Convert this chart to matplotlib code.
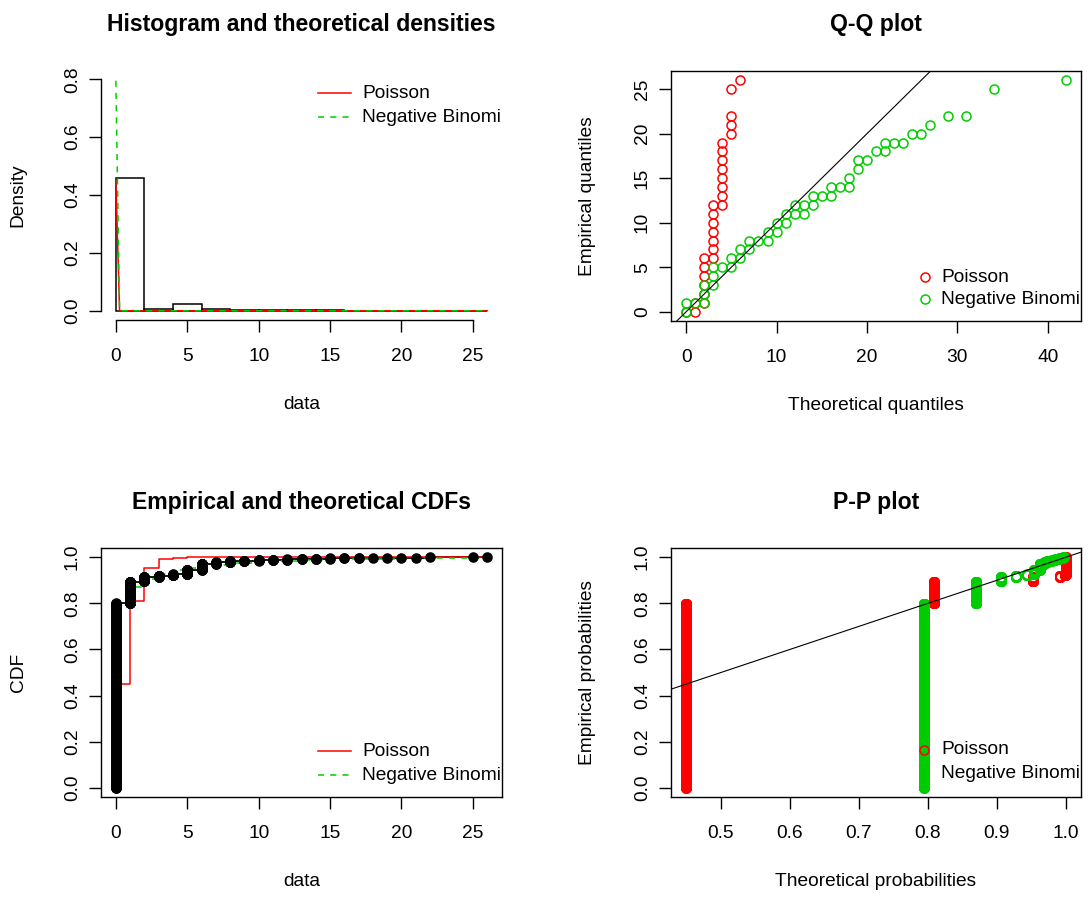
import numpy as np
import matplotlib.pyplot as plt

plt.rcParams['font.family'] = ['Liberation Sans', 'DejaVu Sans']

# observed data, summarised as value -> frequency (n = 2000)
values = [0, 1, 2, 3, 4, 5, 6, 7, 8, 9, 10, 11, 12, 13, 14, 15, 16, 17, 18, 19, 20, 21, 22, 25, 26]
counts = [1599, 190, 40, 12, 10, 40, 52, 12, 10, 5, 4, 4, 3, 3, 3, 2, 2, 2, 1, 1, 1, 1, 1, 1, 1]

# fitted CDFs evaluated on 0..26
grid = list(range(27))
pois_cdf = [0.449, 0.809, 0.953, 0.991, 0.9986, 0.9998, 1.0, 1.0, 1.0, 1.0, 1.0, 1.0, 1.0, 1.0,
            1.0, 1.0, 1.0, 1.0, 1.0, 1.0, 1.0, 1.0, 1.0, 1.0, 1.0, 1.0, 1.0]
nbin_cdf = [0.795, 0.870, 0.906, 0.928, 0.943, 0.954, 0.962, 0.968, 0.973, 0.977, 0.980, 0.983,
            0.985, 0.987, 0.9885, 0.990, 0.991, 0.992, 0.993, 0.9937, 0.9943, 0.9948, 0.9953,
            0.9957, 0.9961, 0.9965, 0.9968]

# fitted densities on the plotting grid of the histogram panel
dens_x = [0.0, 0.26, 26.0]
pois_dens = [0.449, 0.0, 0.0]
nbin_dens = [0.795, 0.0, 0.0]

# Q-Q points (theoretical quantile, empirical quantile)
qq_pois_x = [0, 1, 1, 2, 2, 2, 2, 2, 2, 3, 3, 3, 3, 3, 3, 3, 4, 4, 4, 4, 4, 4, 4, 4, 5, 5, 5, 5, 6]
qq_pois_y = [0, 0, 1, 1, 2, 3, 4, 5, 6, 6, 7, 8, 9, 10, 11, 12, 12, 13, 14, 15, 16, 17, 18, 19,
             20, 21, 22, 25, 26]
qq_nbin_x = [0, 0, 1, 2, 2, 2, 3, 3, 3, 4, 5, 5, 6, 6, 7, 7, 8, 9, 9, 10, 10, 11, 11, 12, 12,
             13, 13, 14, 14, 15, 16, 16, 17, 18, 18, 19, 19, 20, 21, 22, 22, 23, 24, 25, 26,
             27, 29, 31, 34, 42]
qq_nbin_y = [0, 1, 1, 1, 2, 3, 3, 4, 5, 5, 5, 6, 6, 7, 7, 8, 8, 8, 9, 9, 10, 10, 11, 11, 12,
             11, 12, 12, 13, 13, 13, 14, 14, 14, 15, 16, 17, 17, 18, 18, 19, 19, 19, 20, 20,
             21, 22, 22, 25, 26]

hist_breaks = [0, 2, 4, 6, 8, 10, 12, 14, 16, 18, 20, 22, 24, 26]

labels = ['Poisson', 'Negative Binomi']
RED = '#FF0000'
GREEN = '#00CD00'
FS = 13.8
W, H = 1088, 900

fig = plt.figure(figsize=(W / 100, H / 100), dpi=100)


def add_ax(l, t, r, b):
    ax = fig.add_axes([l / W, 1 - b / H, (r - l) / W, (b - t) / H])
    ax.pw, ax.ph = r - l, b - t
    return ax


def style(ax, title, xlabel, ylabel):
    ax.tick_params(direction='out', length=8.5, width=1, labelsize=FS, colors='black')
    ax.tick_params(axis='x', pad=12)
    ax.tick_params(axis='y', pad=6, labelrotation=90)
    for lab in ax.get_yticklabels():
        lab.set_va('center')
    for sp in ax.spines.values():
        sp.set_linewidth(1.0)
    ax.text(0.5, 1 + 46 / ax.ph, title, transform=ax.transAxes, ha='center', va='center',
            fontsize=16.6, fontweight='bold')
    ax.set_xlabel(xlabel, fontsize=FS)
    ax.xaxis.set_label_coords(0.5, -84 / ax.ph)
    ax.xaxis.label.set_va('center')
    ax.set_ylabel(ylabel, fontsize=FS)
    ax.yaxis.set_label_coords(-83 / ax.pw, 0.5)
    ax.yaxis.label.set_va('center')


def legend_text(ax, dy, text):
    ax.text(1 - 140 / ax.pw, dy, text, transform=ax.transAxes, fontsize=FS, ha='left',
            va='center', clip_on=True)


def legend_lines(ax, rows):
    for yy, col, ls, txt in zip(rows, [RED, GREEN], ['-', '--'], labels):
        y = yy / ax.ph
        ax.plot([1 - 184 / ax.pw, 1 - 151 / ax.pw], [y, y], transform=ax.transAxes, color=col,
                ls=ls, lw=1.1, dashes=(4, 4) if ls == '--' else (None, None), clip_on=False)
        legend_text(ax, y, txt)


obs = np.repeat(values, counts)
n = obs.size
ranks = np.arange(1, n + 1)

# ---- Histogram and theoretical densities (right-closed bins as in R's hist)
ax1 = add_ax(101, 70, 502, 320)
edges = np.asarray(hist_breaks, dtype=float)
shifted = edges + 0.5
shifted[0] = edges[0] - 0.5
freq, _ = np.histogram(obs, bins=shifted)
dens = freq / (n * np.diff(edges))
ax1.bar(edges[:-1], dens, width=np.diff(edges), align='edge', fill=False, edgecolor='black',
        linewidth=1.1)
ax1.plot(dens_x, pois_dens, color=RED, lw=1.1)
ax1.plot(dens_x, nbin_dens, color=GREEN, lw=1.1, ls='--', dashes=(4, 4))
ax1.set_xlim(-1.04, 27.04)
ax1.set_ylim(-0.032, 0.832)
ax1.set_xticks([0, 5, 10, 15, 20, 25])
ax1.set_yticks([0.0, 0.2, 0.4, 0.6, 0.8])
ax1.set_yticklabels(['0.0', '0.2', '0.4', '0.6', '0.8'])
ax1.spines['top'].set_visible(False)
ax1.spines['right'].set_visible(False)
ax1.spines['left'].set_bounds(0, 0.8)
ax1.spines['bottom'].set_bounds(0, 25)
style(ax1, 'Histogram and theoretical densities', 'data', 'Density')
legend_lines(ax1, [ax1.ph - 23, ax1.ph - 47])

# ---- Q-Q plot
ax2 = add_ax(671, 71, 1081, 321)
ax2.plot(qq_pois_x, qq_pois_y, 'o', mfc='none', mec=RED, ms=6.5, mew=1.1, ls='none')
ax2.plot(qq_nbin_x, qq_nbin_y, 'o', mfc='none', mec=GREEN, ms=6.5, mew=1.1, ls='none')
ax2.axline((0, 0), (1, 1), color='black', lw=0.8)
ax2.set_xlim(-1.68, 43.68)
ax2.set_ylim(-1.04, 27.04)
ax2.set_xticks([0, 10, 20, 30, 40])
ax2.set_yticks([0, 5, 10, 15, 20, 25])
style(ax2, 'Q-Q plot', 'Theoretical quantiles', 'Empirical quantiles')
for yy, col in zip([44, 22], [RED, GREEN]):
    ax2.plot([1 - 156 / ax2.pw], [yy / ax2.ph], 'o', mfc='none', mec=col, ms=6.5, mew=1.1,
             transform=ax2.transAxes, clip_on=False)
legend_text(ax2, 44 / ax2.ph, labels[0])
legend_text(ax2, 22 / ax2.ph, labels[1])

# ---- Empirical and theoretical CDFs
ax3 = add_ax(101, 548, 502, 797)
ax3.plot(values, np.cumsum(counts) / n, color='black', lw=1.3, drawstyle='steps-post')
ax3.plot(grid, pois_cdf, color=RED, lw=1.1, drawstyle='steps-post')
ax3.plot(grid, nbin_cdf, color=GREEN, lw=1.1, ls='--', dashes=(4, 4), drawstyle='steps-post')
ax3.plot(obs, ranks / n, 'o', color='black', ms=7.6, mew=0, ls='none')
ax3.set_xlim(-1.04, 27.04)
ax3.set_ylim(-0.04, 1.04)
ax3.set_xticks([0, 5, 10, 15, 20, 25])
ax3.set_yticks([0.0, 0.2, 0.4, 0.6, 0.8, 1.0])
ax3.set_yticklabels(['0.0', '0.2', '0.4', '0.6', '0.8', '1.0'])
style(ax3, 'Empirical and theoretical CDFs', 'data', 'CDF')
legend_lines(ax3, [46, 22])

# ---- P-P plot
ax4 = add_ax(671, 548, 1081, 797)
pp_y = (ranks - 0.5) / n
ax4.plot(np.asarray(pois_cdf)[obs], pp_y, 'o', mfc='none', mec=RED, ms=6.8, mew=1.1, ls='none')
ax4.plot(np.asarray(nbin_cdf)[obs], pp_y, 'o', mfc='none', mec=GREEN, ms=6.8, mew=1.1, ls='none')
ax4.axline((0, 0), (1, 1), color='black', lw=0.8)
ax4.set_xlim(0.4276, 1.022)
ax4.set_ylim(-0.04, 1.04)
ax4.set_xticks([0.5, 0.6, 0.7, 0.8, 0.9, 1.0])
ax4.set_xticklabels(['0.5', '0.6', '0.7', '0.8', '0.9', '1.0'])
ax4.set_yticks([0.0, 0.2, 0.4, 0.6, 0.8, 1.0])
ax4.set_yticklabels(['0.0', '0.2', '0.4', '0.6', '0.8', '1.0'])
style(ax4, 'P-P plot', 'Theoretical probabilities', 'Empirical probabilities')
ax4.plot([1 - 157 / ax4.pw], [47 / ax4.ph], 'o', mfc='none', mec=RED, ms=6.5, mew=1.1,
         transform=ax4.transAxes, clip_on=False)
ax4.plot([1 - 157 / ax4.pw], [23 / ax4.ph], 'o', color=GREEN, ms=2.5, mew=0,
         transform=ax4.transAxes, clip_on=False)
legend_text(ax4, 47 / ax4.ph, labels[0])
legend_text(ax4, 23 / ax4.ph, labels[1])

fig.savefig('out.png', dpi=100)
